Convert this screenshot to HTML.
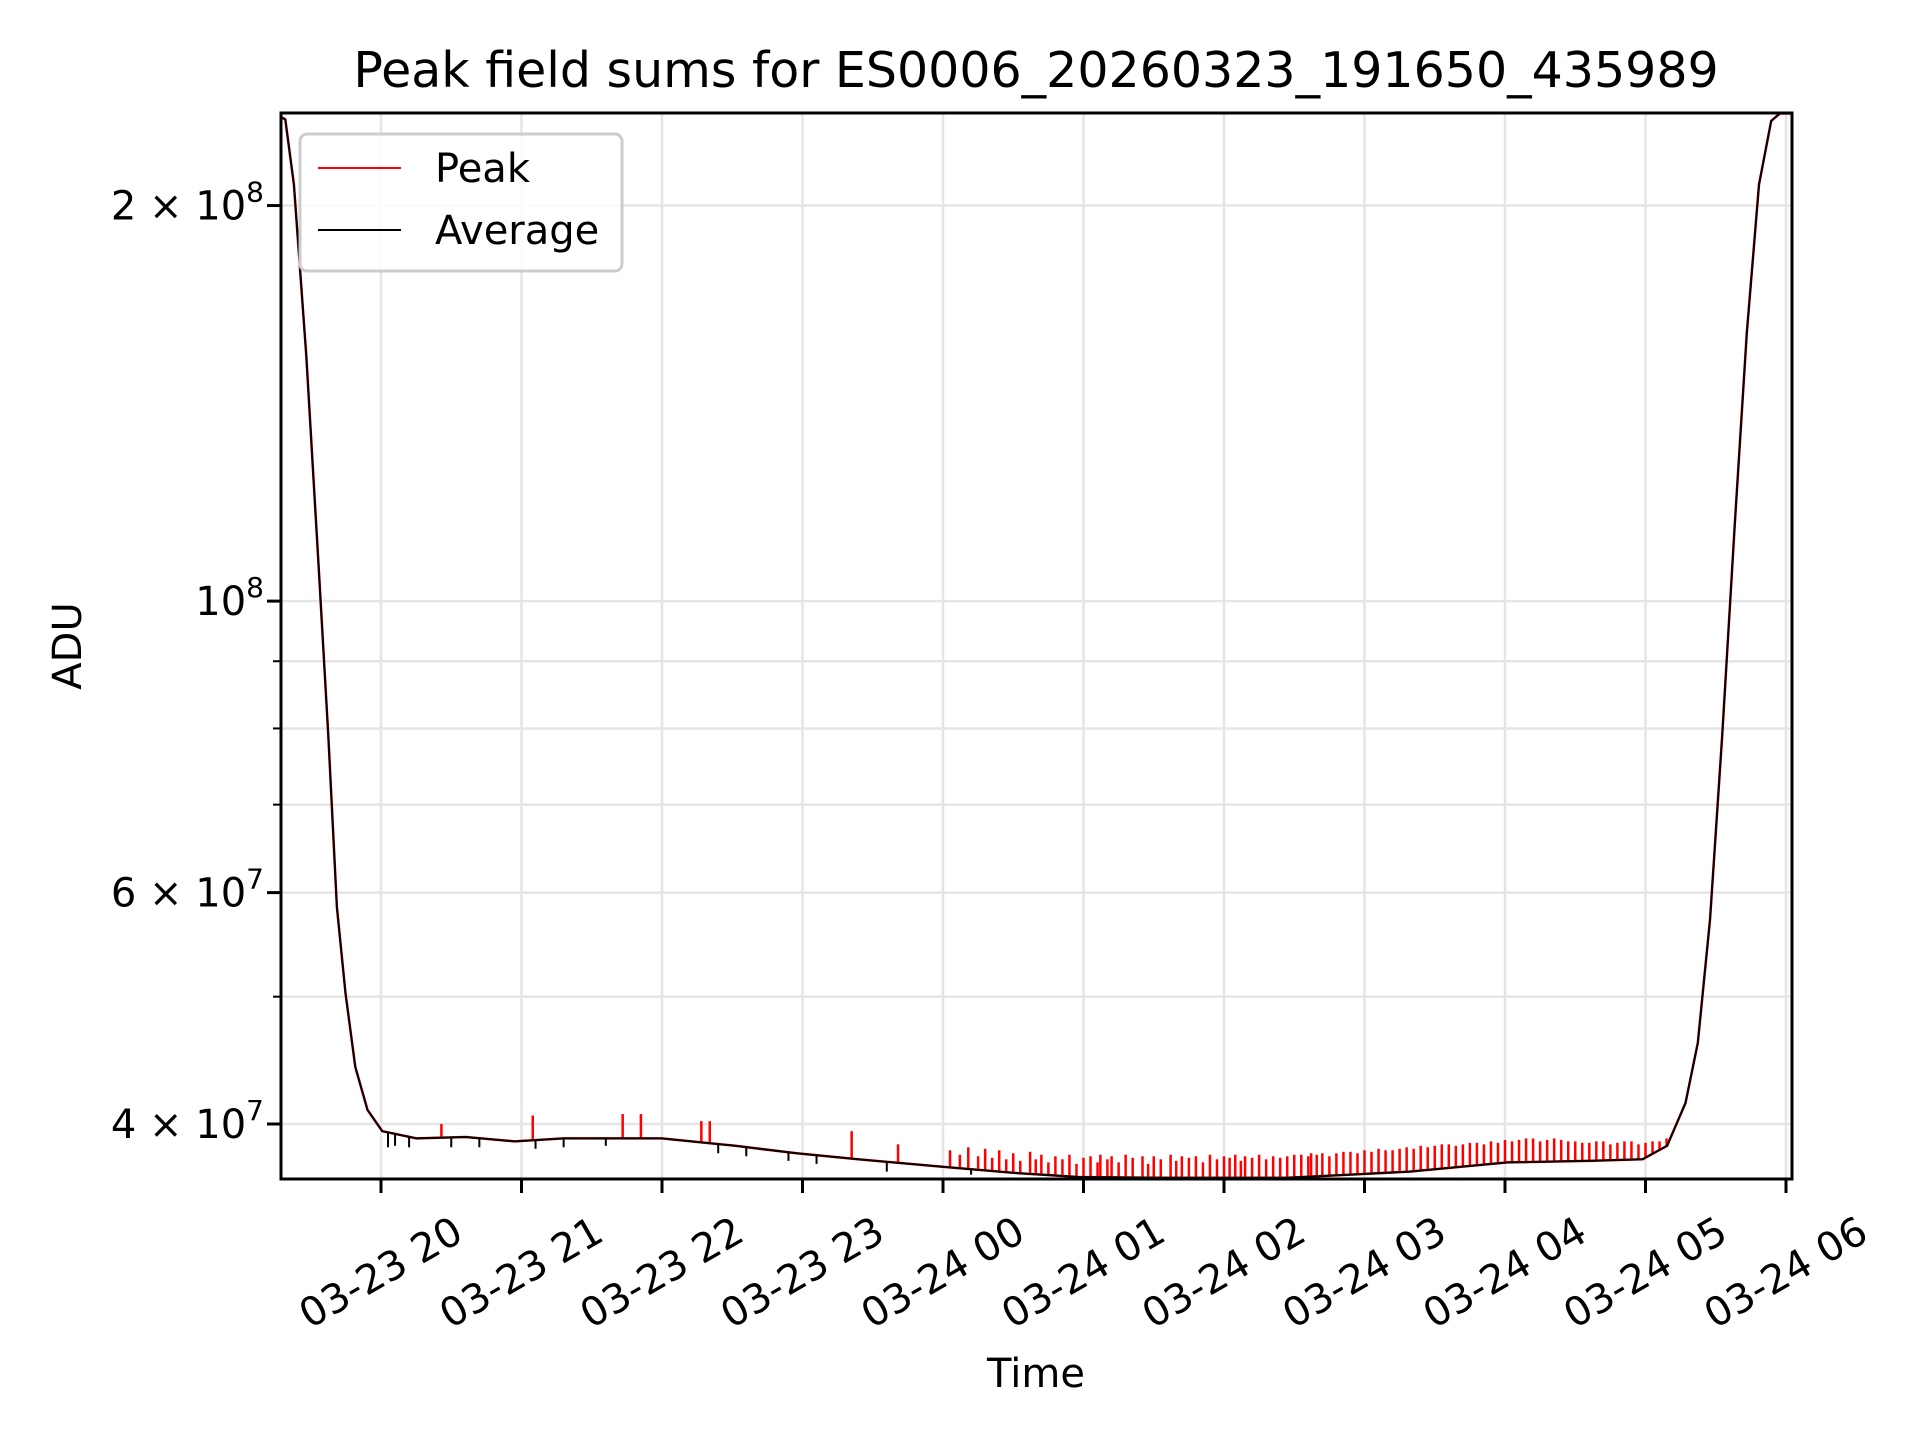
<!DOCTYPE html>
<html><head><meta charset="utf-8"><style>
html,body{margin:0;padding:0;background:#fff;}
svg{display:block;font-family:"DejaVu Sans","Liberation Sans",sans-serif;}
</style></head><body>
<svg id="chart" width="1920" height="1440" viewBox="0 0 1920 1440" xmlns="http://www.w3.org/2000/svg">
<rect width="1920" height="1440" fill="#fff"/>
<g id="grid"></g>
<g id="series"></g>
<rect x="281" y="113" width="1511" height="1066" fill="none" stroke="#000" stroke-width="3"/>
<g id="axes"></g>
<text x="1036" y="87" font-size="49" text-anchor="middle">Peak field sums for ES0006_20260323_191650_435989</text>
<text x="1036" y="1387" font-size="40" text-anchor="middle">Time</text>
<text transform="translate(81,646) rotate(-90)" font-size="40" text-anchor="middle">ADU</text>
<g>
<rect x="300" y="134" width="322" height="137" rx="7" fill="#fff" fill-opacity="0.85" stroke="#ccc" stroke-width="3"/>
<line x1="318" y1="168" x2="401" y2="168" stroke="#f00" stroke-width="2"/>
<text x="435" y="182" font-size="40">Peak</text>
<line x1="318" y1="230" x2="401" y2="230" stroke="#000" stroke-width="2"/>
<text x="435" y="244" font-size="40">Average</text>
</g>
</svg>
<script>
// hours since 03-23 00:00 (values > 24 are on 03-24)
const avgHours = [19.284,19.319,19.380,19.468,19.555,19.625,19.686,19.747,19.817,19.904,20.009,20.253,20.602,20.951,21.300,21.649,21.998,22.522,22.958,23.394,24.005,24.529,24.965,25.576,26.449,26.885,27.321,28.019,28.630,28.979,29.154,29.285,29.372,29.459,29.546,29.634,29.721,29.808,29.895,29.956,30.044];
const avgValues = [2.337e8,2.326e8,2.075e8,1.537e8,1.067e8,7.90e7,5.85e7,5.03e7,4.42e7,4.10e7,3.95e7,3.90e7,3.91e7,3.88e7,3.90e7,3.90e7,3.90e7,3.85e7,3.80e7,3.76e7,3.71e7,3.67e7,3.645e7,3.64e7,3.64e7,3.66e7,3.68e7,3.74e7,3.75e7,3.76e7,3.85e7,4.15e7,4.61e7,5.72e7,7.90e7,1.138e8,1.60e8,2.075e8,2.32e8,2.35e8,2.35e8];
const peakSpikeHours = [20.43,21.08,21.72,21.85,22.28,22.34,23.35,23.68,24.05,24.12,24.18,24.25,24.3,24.35,24.4,24.45,24.5,24.55,24.62,24.66,24.7,24.75,24.8,24.85,24.9,24.95,25.0,25.05,25.1,25.12,25.17,25.2,25.25,25.3,25.35,25.42,25.46,25.5,25.55,25.62,25.66,25.7,25.75,25.8,25.85,25.9,25.95,26.0,26.04,26.08,26.12,26.15,26.2,26.25,26.3,26.35,26.4,26.45,26.5,26.55,26.6,26.62,26.66,26.7,26.75,26.8,26.85,26.9,26.95,27.0,27.05,27.1,27.15,27.2,27.25,27.3,27.35,27.4,27.45,27.5,27.55,27.6,27.65,27.7,27.75,27.8,27.85,27.9,27.95,28.0,28.05,28.1,28.15,28.2,28.25,28.3,28.35,28.4,28.45,28.5,28.55,28.6,28.65,28.7,28.75,28.8,28.85,28.9,28.95,29.0,29.05,29.1,29.15];
const peakSpikeValues = [4.0e7,4.06e7,4.07e7,4.07e7,4.02e7,4.02e7,3.95e7,3.86e7,3.82e7,3.79e7,3.84e7,3.78e7,3.83e7,3.77e7,3.82e7,3.76e7,3.80e7,3.75e7,3.81e7,3.76e7,3.79e7,3.74e7,3.78e7,3.76e7,3.79e7,3.73e7,3.77e7,3.78e7,3.74e7,3.79e7,3.76e7,3.78e7,3.74e7,3.79e7,3.77e7,3.78e7,3.73e7,3.78e7,3.76e7,3.79e7,3.75e7,3.78e7,3.77e7,3.78e7,3.74e7,3.79e7,3.76e7,3.78e7,3.77e7,3.79e7,3.75e7,3.78e7,3.77e7,3.79e7,3.76e7,3.78e7,3.77e7,3.78e7,3.79e7,3.79e7,3.78e7,3.80e7,3.79e7,3.80e7,3.78e7,3.80e7,3.81e7,3.81e7,3.80e7,3.82e7,3.81e7,3.83e7,3.82e7,3.82e7,3.83e7,3.84e7,3.83e7,3.85e7,3.84e7,3.85e7,3.86e7,3.86e7,3.85e7,3.86e7,3.87e7,3.87e7,3.86e7,3.88e7,3.87e7,3.89e7,3.88e7,3.89e7,3.90e7,3.90e7,3.88e7,3.89e7,3.90e7,3.89e7,3.88e7,3.88e7,3.87e7,3.87e7,3.88e7,3.88e7,3.86e7,3.87e7,3.88e7,3.88e7,3.86e7,3.87e7,3.88e7,3.88e7,3.90e7];
const dipHours = [20.05,20.1,20.2,20.5,20.7,21.1,21.3,21.6,22.4,22.6,22.9,23.1,23.6,24.2];
const dipValues = [3.84e7,3.85e7,3.84e7,3.84e7,3.84e7,3.83e7,3.84e7,3.85e7,3.80e7,3.78e7,3.75e7,3.73e7,3.68e7,3.66e7];
const yMajorTicks = [4e7,6e7,1e8,2e8];
const yMajorLabels = [["4","7"],["6","7"],["","8"],["2","8"]];
const yMinorGrid = [5e7,7e7,8e7,9e7];
const xTickHours = [20,21,22,23,24,25,26,27,28,29,30];
const xTickLabels = ["03-23 20","03-23 21","03-23 22","03-23 23","03-24 00","03-24 01","03-24 02","03-24 03","03-24 04","03-24 05","03-24 06"];

const L=281,R=1792,T=113,B=1179;
const xScale=h=>381+(h-20)*140.5;
const yScale=v=>1124-(Math.log10(v)-Math.log10(4e7))*1314;
const NS="http://www.w3.org/2000/svg";
function mk(tag,parent,attrs){const e=document.createElementNS(NS,tag);for(const k in attrs)e.setAttribute(k,attrs[k]);parent.appendChild(e);return e;}
const grid=document.getElementById('grid'),series=document.getElementById('series'),axes=document.getElementById('axes');
xTickHours.forEach((h,i)=>{const x=xScale(h);
 const g=mk('line',grid,{x1:x,x2:x,y1:T,y2:B,stroke:'#e5e5e5','stroke-width':2.5});
 
 
 const t=mk('line',axes,{x1:x,x2:x,y1:B,y2:B+14,stroke:'#000','stroke-width':3});
 
 
 const tx=mk('text',axes,{transform:`translate(${x},1273) rotate(-30)`,'font-size':40,'text-anchor':'middle','dominant-baseline':'central'});
 tx.textContent=xTickLabels[i];
 
 
});
yMinorGrid.forEach(v=>{const y=yScale(v);
 const g=mk('line',grid,{x1:L,x2:R,y1:y,y2:y,stroke:'#e5e5e5','stroke-width':2.5});
 
 
 const t=mk('line',axes,{x1:L-8,x2:L,y1:y,y2:y,stroke:'#000','stroke-width':2});
 
 
});
yMajorTicks.forEach((v,i)=>{const y=yScale(v);
 const g=mk('line',grid,{x1:L,x2:R,y1:y,y2:y,stroke:'#e5e5e5','stroke-width':2.5});
 
 
 const t=mk('line',axes,{x1:L-14,x2:L,y1:y,y2:y,stroke:'#000','stroke-width':3});
 
 
 const tx=mk('text',axes,{x:264,y:y+14,'font-size':40,'text-anchor':'end'});
 const [m,e]=yMajorLabels[i];
 tx.innerHTML=(m?m+' \u00d7 ':'')+'10<tspan font-size="28" dy="-18">'+e+'</tspan>';
 
 
});
function avgAt(h){for(let i=1;i<avgHours.length;i++){if(h<=avgHours[i]){const f=(h-avgHours[i-1])/(avgHours[i]-avgHours[i-1]);return Math.exp(Math.log(avgValues[i-1])*(1-f)+Math.log(avgValues[i])*f);}}return avgValues[avgValues.length-1];}
const pts=avgHours.map((h,i)=>xScale(h).toFixed(1)+','+yScale(avgValues[i]).toFixed(1)).join(' ');
const peakLine=mk('polyline',series,{points:pts,fill:'none',stroke:'#f00','stroke-width':2.5,'stroke-linejoin':'round'});


peakSpikeHours.forEach((h,i)=>{const x=xScale(h);
 const s=mk('line',series,{x1:x,x2:x,y1:yScale(avgAt(h)),y2:yScale(peakSpikeValues[i]),stroke:'#f00','stroke-width':2.5});
 
 
});
const avgLine=mk('polyline',series,{points:pts,fill:'none',stroke:'#000','stroke-width':2,'stroke-linejoin':'round'});


dipHours.forEach((h,i)=>{const x=xScale(h);
 const s=mk('line',series,{x1:x,x2:x,y1:yScale(avgAt(h)),y2:yScale(dipValues[i]),stroke:'#000','stroke-width':2});
 
 
});
</script>
</body></html>
